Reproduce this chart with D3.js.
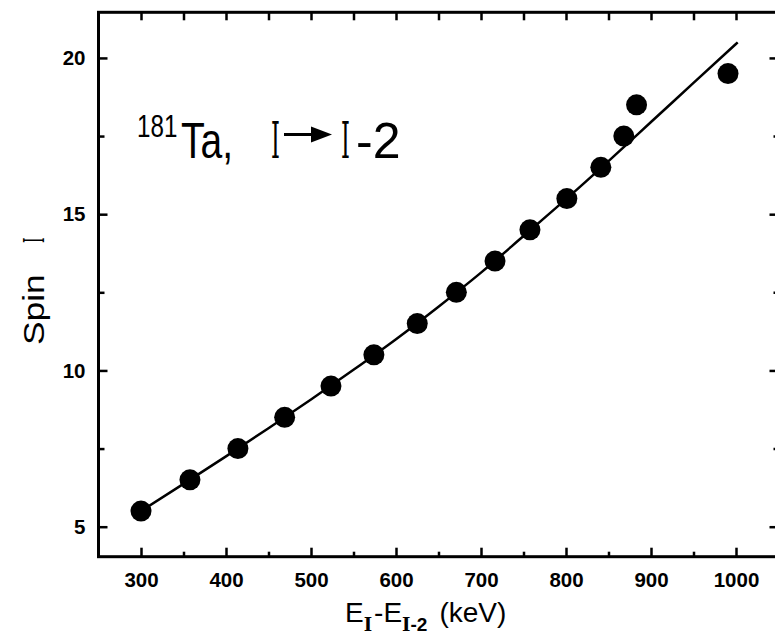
<!DOCTYPE html>
<html>
<head>
<meta charset="utf-8">
<script src="https://cdn.jsdelivr.net/npm/d3@7"></script>
<style>
  html, body { margin: 0; padding: 0; background: #fff; }
  svg { display: block; }
</style>
</head>
<body>
<div id="chart"></div>
<script>
// ---- data ----
const energies = [300, 357.6, 414, 469, 523.5, 574, 625, 671, 716.5, 757.6, 801, 841, 868, 883, 990.6];
const spins    = [5.5, 6.5, 7.5, 8.5, 9.5, 10.5, 11.5, 12.5, 13.5, 14.5, 15.5, 16.5, 17.5, 18.5, 19.5];
const fitEnergies = [300, 350, 400, 450, 500, 550, 600, 650, 700, 750, 800, 850, 900, 950, 1002];
const fitSpins    = [5.5, 6.37, 7.25, 8.15, 9.07, 10.02, 11.0, 12.04, 13.13, 14.3, 15.48, 16.7, 17.95, 19.2, 20.5];
const xMajorTicks = [300, 400, 500, 600, 700, 800, 900, 1000];
const xMinorTicks = [350, 450, 550, 650, 750, 850, 950];
const yMajorTicks = [5, 10, 15, 20];
const yMinorTicks = [7.5, 12.5, 17.5];

const W = 775, H = 635;
const svg = d3.select("#chart").append("svg").attr("width", W).attr("height", H);

const x = d3.scaleLinear().domain([250, 1050]).range([98.5, 778.5]);
const y = d3.scaleLinear().domain([4.04, 21.46]).range([556.7, 12.3]);

const sans = "'Liberation Sans', Arial, sans-serif";
const serif = "'DejaVu Serif', 'Liberation Serif', serif";

function styleAxis(g, sw) {
  g.select(".domain").remove();
  g.selectAll(".tick line").attr("stroke", "#000").attr("stroke-width", sw);
  g.selectAll(".tick text").attr("fill", "#000").attr("font-size", 20.5)
    .attr("font-weight", "bold").attr("font-family", sans);
}

// bottom axis
svg.append("g").attr("transform", `translate(0,${y.range()[0]})`)
  .call(d3.axisBottom(x).tickValues(xMajorTicks).tickSizeInner(-9).tickSizeOuter(0).tickPadding(15.5).tickFormat(d3.format("d")))
  .call(g => styleAxis(g, 2.5));
svg.append("g").attr("transform", `translate(0,${y.range()[0]})`)
  .call(d3.axisBottom(x).tickValues(xMinorTicks).tickSizeInner(-5).tickSizeOuter(0).tickFormat(""))
  .call(g => styleAxis(g, 2.5));
// top axis
svg.append("g").attr("transform", `translate(0,${y.range()[1]})`)
  .call(d3.axisTop(x).tickValues(xMajorTicks.concat(xMinorTicks)).tickSizeInner(-8).tickSizeOuter(0).tickFormat(""))
  .call(g => styleAxis(g, 2.5));
// left axis
svg.append("g").attr("transform", `translate(${x.range()[0]},0)`)
  .call(d3.axisLeft(y).tickValues(yMajorTicks).tickSizeInner(-9).tickSizeOuter(0).tickPadding(13).tickFormat(d3.format("d")))
  .call(g => styleAxis(g, 2.5));
svg.append("g").attr("transform", `translate(${x.range()[0]},0)`)
  .call(d3.axisLeft(y).tickValues(yMinorTicks).tickSizeInner(-6).tickSizeOuter(0).tickFormat(""))
  .call(g => styleAxis(g, 2.5));
// right axis
svg.append("g").attr("transform", `translate(${x.range()[1]},0)`)
  .call(d3.axisRight(y).tickValues(yMajorTicks).tickSizeInner(-9).tickSizeOuter(0).tickFormat(""))
  .call(g => styleAxis(g, 2.5));
svg.append("g").attr("transform", `translate(${x.range()[1]},0)`)
  .call(d3.axisRight(y).tickValues(yMinorTicks).tickSizeInner(-5).tickSizeOuter(0).tickFormat(""))
  .call(g => styleAxis(g, 2.5));

// frame
svg.append("rect")
  .attr("x", x.range()[0]).attr("y", y.range()[1])
  .attr("width", x.range()[1] - x.range()[0]).attr("height", y.range()[0] - y.range()[1])
  .attr("fill", "none").attr("stroke", "#000").attr("stroke-width", 3);

// fit curve
const fit = fitEnergies.map((e, i) => [e, fitSpins[i]]);
svg.append("path").datum(fit)
  .attr("d", d3.line().x(d => x(d[0])).y(d => y(d[1])).curve(d3.curveMonotoneX))
  .attr("fill", "none").attr("stroke", "#000").attr("stroke-width", 2.5);

// data points
svg.append("g").selectAll("circle").data(energies.map((e, i) => [e, spins[i]])).join("circle")
  .attr("cx", d => x(d[0])).attr("cy", d => y(d[1])).attr("r", 10.5).attr("fill", "#000");

// title annotation
const tA = svg.append("text").attr("transform", "translate(137,157.5) scale(0.78,1)")
  .attr("font-family", sans).attr("fill", "#000");
tA.append("tspan").attr("x", 0).attr("y", -20.5).attr("font-size", 31).text("181");
tA.append("tspan").attr("x", 56.4).attr("y", 0).attr("font-size", 50).text("Ta,");

svg.append("text").attr("transform", "translate(271,157.5) scale(0.45,1)")
  .attr("font-family", serif).attr("font-size", 50).text("I");
svg.append("line").attr("x1", 284).attr("x2", 314).attr("y1", 134.5).attr("y2", 134.5)
  .attr("stroke", "#000").attr("stroke-width", 3);
svg.append("path").attr("d", "M311,126.5 L332,134.5 L311,142.5 Z").attr("fill", "#000");
svg.append("text").attr("transform", "translate(341,157.5) scale(0.45,1)")
  .attr("font-family", serif).attr("font-size", 50).text("I");
svg.append("text").attr("x", 356).attr("y", 157.5).attr("font-family", sans).attr("font-size", 50).text("-2");

// y axis label (rotated)
svg.append("text").attr("transform", "translate(44,345) rotate(-90) scale(1.22,1)")
  .attr("font-family", sans).attr("font-size", 29).text("Spin");
svg.append("text").attr("transform", "translate(44,243) rotate(-90) scale(0.5,1)")
  .attr("font-family", serif).attr("font-size", 28).text("I");

// x axis label
const xl = svg.append("text").attr("x", 345).attr("y", 622).attr("font-family", sans).attr("font-size", 28);
xl.append("tspan").text("E");
xl.append("tspan").attr("dy", 9).attr("font-size", 18).attr("font-weight", "bold").attr("font-family", serif).text("I");
xl.append("tspan").attr("dy", -9).attr("dx", 2).text("-E");
xl.append("tspan").attr("dy", 9).attr("font-size", 18).attr("font-weight", "bold").attr("font-family", serif).text("I");
xl.append("tspan").attr("font-size", 19).attr("font-weight", "bold").text("-2");
xl.append("tspan").attr("dy", -9).attr("dx", 12).text("(keV)");
</script>
</body>
</html>
